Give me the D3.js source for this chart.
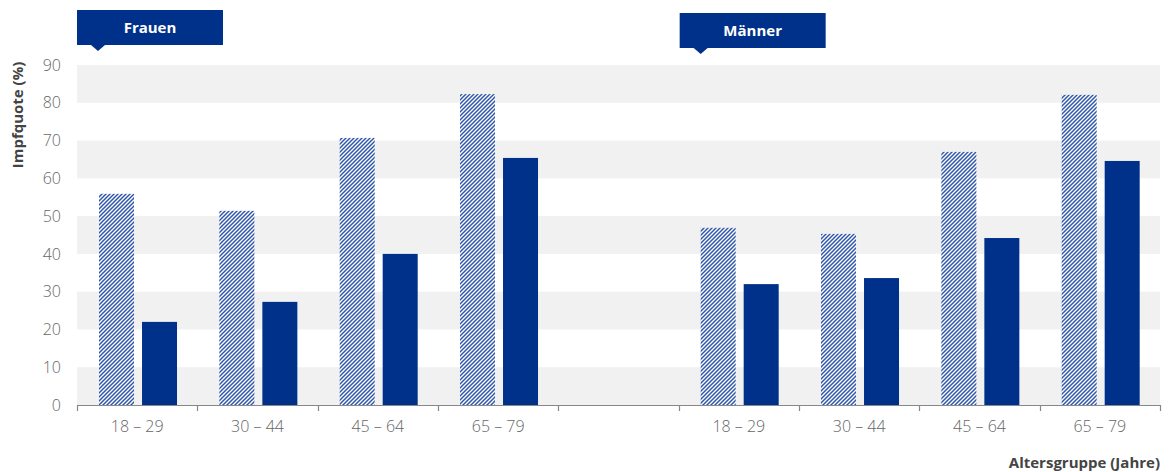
<!DOCTYPE html>
<html><head><meta charset="utf-8">
<script src="https://cdn.jsdelivr.net/npm/d3@7"></script>
<style>
body{margin:0;background:#fff;}
text{font-family:"Open Sans","Noto Sans",sans-serif;}
</style></head>
<body><svg id="c" width="1173" height="472"></svg>
<script>
const categories = ["F18","F30","F45","F65","gap","M18","M30","M45","M65"];
const tickLabels = ["18 – 29","30 – 44","45 – 64","65 – 79","","18 – 29","30 – 44","45 – 64","65 – 79"];
const hatchedValues = [55.9, 51.4, 70.7, 82.3, null, 46.9, 45.3, 67.0, 82.1];
const solidValues   = [22.0, 27.3, 40.0, 65.4, null, 32.0, 33.6, 44.2, 64.6];
const yTicks = [0,10,20,30,40,50,60,70,80,90];
const groupLabels = [{text:"Frauen", cat:"F18"},{text:"Männer", cat:"M18"}];

const svg = d3.select("#c");
const mLeft=77, mRight=1160, mTop=65, mBottom=405;
const x = d3.scaleBand().domain(categories).range([mLeft,mRight]).padding(0);
const y = d3.scaleLinear().domain([0,90]).range([mBottom,mTop]);
const blue="#00318a";

const defs = svg.append("defs");
const pat = defs.append("pattern").attr("id","hatch").attr("patternUnits","userSpaceOnUse")
  .attr("width",4).attr("height",4);
pat.append("rect").attr("width",4).attr("height",4).attr("fill","#fff");
pat.append("path").attr("d","M-1,1 l2,-2 M0,4 l4,-4 M3,5 l2,-2").attr("stroke","#2f56a8").attr("stroke-width",1.5);

// bands
for(let i=0;i<yTicks.length-1;i+=2){
  svg.append("rect").attr("x",mLeft).attr("width",mRight-mLeft)
    .attr("y",y(yTicks[i+1])).attr("height",y(yTicks[i])-y(yTicks[i+1])).attr("fill","#f1f1f1");
}

const bw = x.bandwidth();
const barW = 35;
categories.forEach((c,i)=>{
  if(hatchedValues[i]!=null){
    svg.append("rect").attr("x",x(c)+bw*0.183).attr("width",barW)
      .attr("y",y(hatchedValues[i])).attr("height",y(0)-y(hatchedValues[i])).attr("fill","url(#hatch)");
  }
  if(solidValues[i]!=null){
    svg.append("rect").attr("x",x(c)+bw*0.183+barW+8).attr("width",barW)
      .attr("y",y(solidValues[i])).attr("height",y(0)-y(solidValues[i])).attr("fill",blue);
  }
});

// y axis labels
const ya = svg.append("g").attr("transform",`translate(${mLeft},0)`)
  .call(d3.axisLeft(y).tickValues(yTicks).tickSize(0).tickPadding(16));
ya.select(".domain").remove();
ya.selectAll("text").attr("font-size",16).attr("fill","#666").attr("font-weight",300)
  .attr("font-family","'Open Sans',sans-serif");

// x axis
const xa = svg.append("g").attr("transform",`translate(0,${mBottom})`)
  .call(d3.axisBottom(x).tickSize(0).tickFormat((d,i)=>tickLabels[i]).tickPadding(16));
xa.select(".domain").attr("stroke","#888").attr("stroke-width",1.2);
xa.selectAll("text").attr("font-size",16).attr("fill","#666").attr("font-weight",300)
  .attr("font-family","'Open Sans',sans-serif");
const edges = categories.map(c=>x(c)).concat([mRight]);
svg.append("g").selectAll("line").data(edges).join("line")
  .attr("x1",d=>Math.round(d)+0.5).attr("x2",d=>Math.round(d)+0.5)
  .attr("y1",mBottom).attr("y2",mBottom+6).attr("stroke","#888").attr("stroke-width",1.2);

// titles
svg.append("text").attr("transform",`translate(23,115) rotate(-90)`).attr("text-anchor","middle")
  .attr("font-size",15).attr("font-weight",700).attr("fill","#444").text("Impfquote (%)");
svg.append("text").attr("x",mRight).attr("y",468).attr("text-anchor","end")
  .attr("font-size",15).attr("font-weight",700).attr("fill","#444").text("Altersgruppe (Jahre)");

// group labels
groupLabels.forEach((g,i)=>{
  const x0 = x(g.cat)+ (i===0?0:1);
  const y0 = i===0?10:13;
  svg.append("rect").attr("x",x0).attr("y",y0).attr("width",146).attr("height",35).attr("fill",blue);
  svg.append("path").attr("d",`M${x0+14},${y0+35} L${x0+21},${y0+41} L${x0+28},${y0+35}Z`).attr("fill",blue);
  svg.append("text").attr("x",x0+73).attr("y",y0+23).attr("text-anchor","middle")
    .attr("font-size",15).attr("font-weight",700).attr("fill","#fff").text(g.text);
});
</script></body></html>
